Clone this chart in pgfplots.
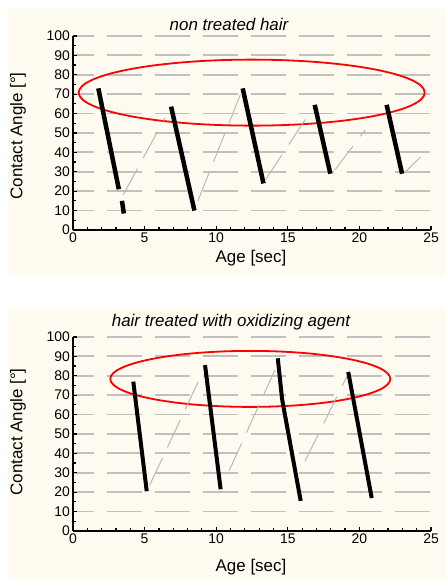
\documentclass[border=0pt]{standalone}
\usepackage{pgfplots}
\pgfplotsset{compat=1.18}
\usepackage{fontspec}
\setmainfont{Liberation Sans}

\definecolor{panelbg}{RGB}{255,251,240}
\definecolor{gridgray}{RGB}{192,192,192}
\definecolor{linegray}{RGB}{185,185,185}

\pgfplotsset{
  hairaxis/.style={
    scale only axis, width=358bp, height=194bp,
    xmin=0, xmax=25, ymin=0, ymax=100,
    axis lines*=left,
    axis line style={black, line width=1.6bp},
    xtick={0,5,...,25}, minor x tick num=4,
    ytick={0,10,...,100}, minor y tick num=1,
    tick align=inside, tick style={black, line width=1.2bp},
    major tick length=4bp, minor tick length=3bp,
    ymajorgrids,
    major grid style={draw=gridgray, line width=1.8bp,
      dash pattern=on 35bp off 13bp, dash phase=14bp},
    /pgf/number format/assume math mode=true,
    ticklabel style={font=\fontsize{14}{14}\selectfont},
    xticklabel style={anchor=north, inner sep=0pt, yshift=-3bp},
    yticklabel style={anchor=east, inner sep=0pt, xshift=-3bp},
    clip=false,
  },
  blk/.style={black, line width=4.5bp, no markers},
  gry/.style={linegray, line width=1bp, no markers, dash pattern=on 30bp off 12bp},
}

\begin{document}
\begin{tikzpicture}[x=1bp, y=1bp]
\useasboundingbox (0,0) rectangle (446,579);
\fill[panelbg] (8,570) rectangle (446,303);
\fill[panelbg] (8,271) rectangle (446,0);

% non treated hair
\begin{axis}[hairaxis, at={(73bp,349bp)}, anchor=south west]
\draw[red, line width=1.8bp] (axis cs:12.48,70.8) ellipse [x radius=173bp, y radius=33bp];
\addplot[gry] coordinates {(3.5,18) (6.42,57.8)};
\addplot[gry] coordinates {(8.72,15) (11.7,70)};
\addplot[gry] coordinates {(13.45,26) (16.3,57.8)};
\addplot[gry] coordinates {(18.3,31) (20.4,51.6)};
\addplot[gry] coordinates {(23.15,29.5) (24.25,37.5)};
\addplot[blk] coordinates {(1.77,73) (3.2,21)};
\addplot[blk] coordinates {(3.42,15) (3.55,8.5)};
\addplot[blk] coordinates {(6.85,63.6) (8.48,10)};
\addplot[blk] coordinates {(11.85,73) (13.3,24)};
\addplot[blk] coordinates {(16.88,64.5) (17.97,29)};
\addplot[blk] coordinates {(21.9,64.5) (22.98,29)};
\end{axis}

% hair treated with oxidizing agent
\begin{axis}[hairaxis, at={(73bp,48bp)}, anchor=south west]
\draw[red, line width=1.8bp] (axis cs:12.38,78.4) ellipse [x radius=140bp, y radius=28bp];
\addplot[gry] coordinates {(5.35,23.5) (9.0,81)};
\addplot[gry] coordinates {(10.9,31) (14.1,83)};
\addplot[gry] coordinates {(16.2,36) (19.15,80)};
\addplot[blk, line width=4bp] coordinates {(4.21,77) (5.15,20.5)};
\addplot[blk, line width=4bp] coordinates {(9.22,85.5) (10.31,21.5)};
\addplot[blk, line width=4bp] coordinates {(14.3,89) (14.6,68) (15.9,15.5)};
\addplot[blk, line width=4bp] coordinates {(19.22,82) (20.86,17)};
\end{axis}

\node[font=\fontsize{17}{17}\selectfont\itshape] at (229,555) {non treated hair};
\node[font=\fontsize{17}{17}\selectfont] at (251,321) {Age [sec]};
\node[font=\fontsize{17}{17}\selectfont, rotate=90] at (18,443) {Contact Angle [°]};

\node[font=\fontsize{17}{17}\selectfont\itshape] at (231,257) {hair treated with oxidizing agent};
\node[font=\fontsize{17}{17}\selectfont] at (251,12) {Age [sec]};
\node[font=\fontsize{17}{17}\selectfont, rotate=90] at (18,147) {Contact Angle [°]};
\end{tikzpicture}
\end{document}
